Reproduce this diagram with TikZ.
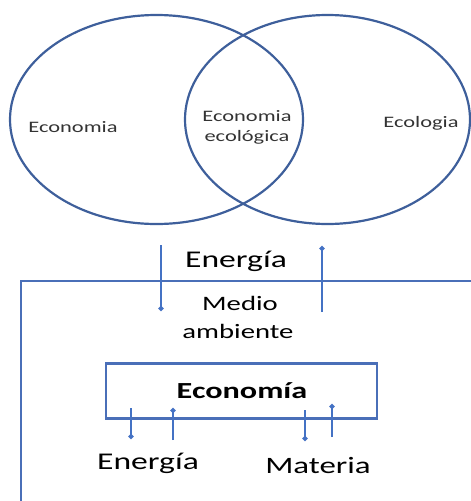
\documentclass[tikz,border=0pt]{standalone}
\usepackage{fontspec}
\setmainfont{Carlito}[FakeStretch=1.4]
\usetikzlibrary{arrows.meta,shapes.geometric}
\definecolor{ellblue}{HTML}{3E5F9B}
\definecolor{arrblue}{HTML}{4472C4}
\definecolor{boxblue}{HTML}{4A6FB8}
\definecolor{smalltxt}{HTML}{333333}
\tikzset{
  venn/.style={draw=ellblue, line width=2.2pt, ellipse, inner sep=0pt},
  flow/.style={draw=arrblue, line width=2pt, -{Circle[length=5pt]}},
  smalllbl/.style={font=\fontsize{16}{20}\selectfont, text=smalltxt, align=center, inner sep=0pt},
  biglbl/.style={font=\fontsize{24}{28}\selectfont, text=black, align=center, inner sep=0pt, anchor=base},
  midlbl/.style={font=\fontsize{20.5}{28}\selectfont, text=black, align=center, inner sep=0pt},
  frame/.style={draw=boxblue, line width=2.2pt}
}
\begin{document}
\begin{tikzpicture}[x=1pt,y=-1pt]
\useasboundingbox (0,0) rectangle (471,501);
% Venn
\node[venn, minimum width=293pt, minimum height=209pt] (econ) at (156.5,119.5) {};
\node[venn, minimum width=285pt, minimum height=209pt] (ecol) at (327.5,119.5) {};
\node[smalllbl] (lecon) at (73,127) {Economia};
\node[smalllbl] (lmid) at (247,127) {Economia\\ecológica};
\node[smalllbl] (lecol) at (421,123) {Ecologia};
% outer environment frame
\coordinate (fr) at (473,281);
\coordinate (ftl) at (21,281);
\coordinate (fb) at (21,503);
\draw[frame] (fr) -- (ftl) -- (fb);
% top energy
\node[biglbl] (etop) at (236,267) {Energía};
\coordinate (a1s) at (161,245);
\coordinate (a1e) at (161,311);
\coordinate (a2s) at (322,312);
\coordinate (a2e) at (322,246);
\draw[flow] (a1s) -- (a1e);
\draw[flow] (a2s) -- (a2e);
\node[midlbl, anchor=base] (medio) at (240,310) {Medio};
\node[midlbl, anchor=base] (amb) at (238,338) {ambiente};
% economy box
\node[frame, minimum width=271pt, minimum height=55pt, inner sep=0pt] (box) at (241.5,391) {};
\node[biglbl, font=\fontsize{23}{28}\selectfont\bfseries] (becon) at (242,398) {Economía};
\coordinate (b1s) at (131,408);
\coordinate (b1e) at (131,439);
\coordinate (b2s) at (173,440);
\coordinate (b2e) at (173,408);
\coordinate (b3s) at (305,410);
\coordinate (b3e) at (305,441);
\coordinate (b4s) at (332,437);
\coordinate (b4e) at (332,404);
\draw[flow] (b1s) -- (b1e);
\draw[flow] (b2s) -- (b2e);
\draw[flow] (b3s) -- (b3e);
\draw[flow] (b4s) -- (b4e);
\node[biglbl] (ebot) at (148,469) {Energía};
\node[biglbl, font=\fontsize{23.5}{28}\selectfont] (mat) at (318,473) {Materia};
\end{tikzpicture}
\end{document}
